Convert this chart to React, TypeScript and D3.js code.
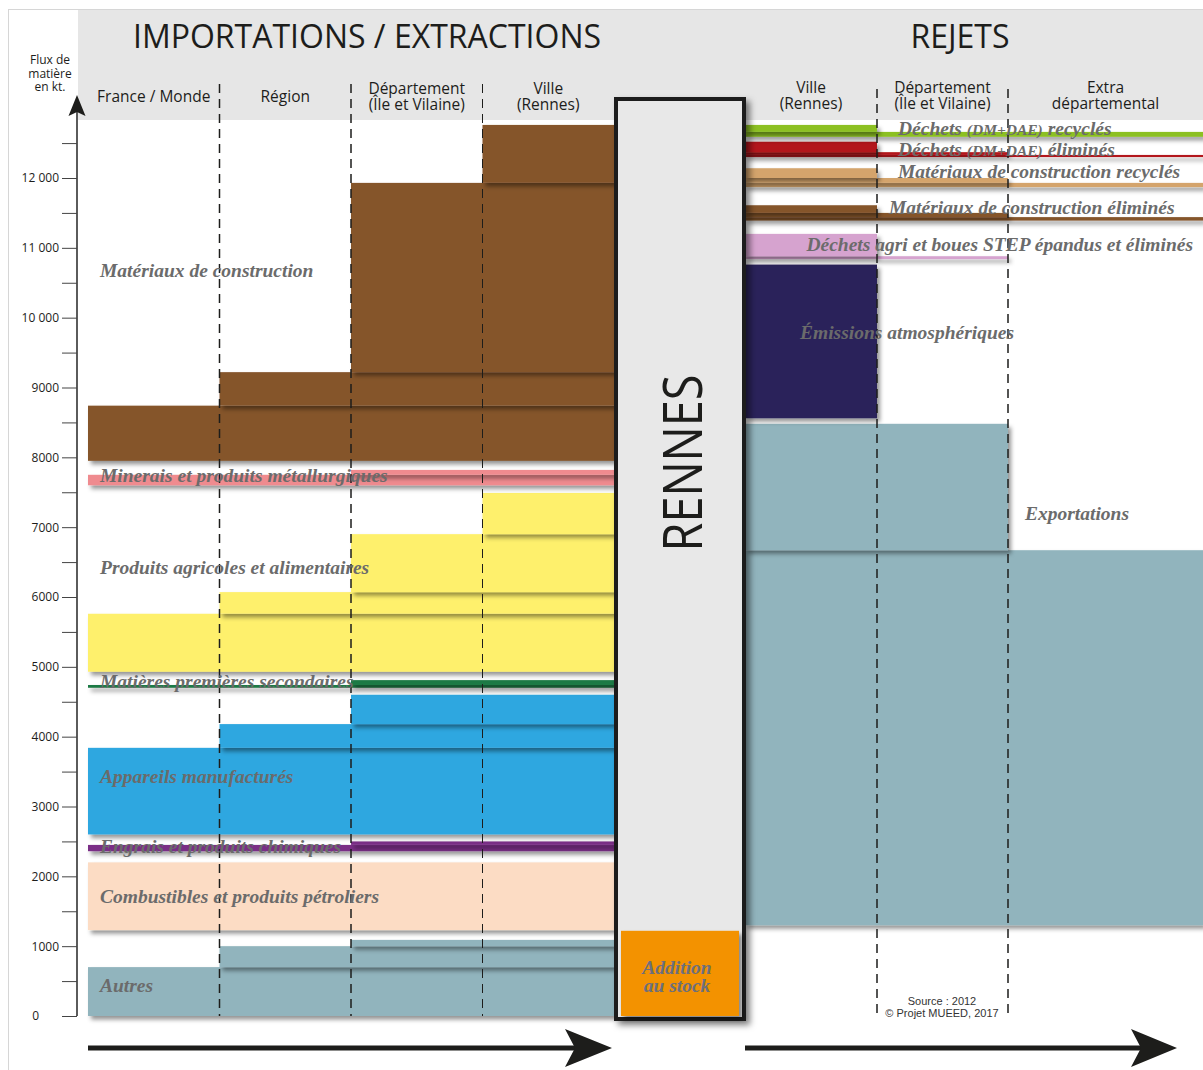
import * as d3 from "d3";
import { useEffect, useRef } from "react";

// column headers (one or two lines)
const leftColumns = [["France / Monde"], ["Région"], ["Département", "(Île et Vilaine)"], ["Ville", "(Rennes)"]];
const rightColumns = [["Ville", "(Rennes)"], ["Département", "(Île et Vilaine)"], ["Extra", "départemental"]];

// importations / extractions, in kt, stacked from the bottom
const importNames = [
  "Autres",
  "Combustibles et produits pétroliers",
  "Engrais et produits chimiques",
  "Appareils manufacturés",
  "Matières premières secondaires",
  "Produits agricoles et alimentaires",
  "Minerais et produits métallurgiques",
  "Matériaux de construction",
];
const importColors = ["#91b4bd", "#fcdcc4", "#7a2e86", "#2ea7e0", "#1f7a45", "#fef06c", "#ef8b8f", "#85552c"];
const importBase = [0, 1230, 2360, 2600, 4700, 4930, 7600, 7950];
const importFrance = [700, 2200, 2450, 3840, 4740, 5760, 7750, 8740];
const importRegion = [1000, 2200, 2450, 4180, 4740, 6070, 7750, 9220];
const importDepartement = [1090, 2200, 2500, 4600, 4810, 6900, 7820, 11930];
const importVille = [1090, 2200, 2500, 4600, 4810, 7490, 7820, 12760];

// rejets, in kt
const rejetNames = [
  "Exportations",
  "Émissions atmosphériques",
  "Déchets agri et boues STEP épandus et éliminés",
  "Matériaux de construction éliminés",
  "Matériaux de construction recyclés",
  "Déchets (DM+DAE) éliminés",
  "Déchets (DM+DAE) recyclés",
];
const rejetColors = ["#91b4bd", "#29215a", "#d6a3cf", "#85552c", "#d4a46c", "#b3191b", "#8cc022"];
const rejetBase = [1300, 8560, 10840, 11390, 11870, 12300, 12590];
const rejetVille = [8480, 10760, 11200, 11610, 12140, 12520, 12760];
const rejetDepartement = [8480, 8560, 10880, 11500, 12000, 12370, 12660];
const rejetExtra = [6670, 8560, 10840, 11440, 11930, 12330, 12660];

const stockValue = 1220;

const yTicks = d3.range(0, 13000, 500);

// label placement: x in px, y in kt
const importLabelPos = [
  { x: 100, v: 430 },
  { x: 100, v: 1718 },
  { x: 100, v: 2434 },
  { x: 100, v: 3423 },
  { x: 100, v: 4783 },
  { x: 100, v: 6416 },
  { x: 100, v: 7747 },
  { x: 100, v: 10669 },
];
const rejetLabelPos = [
  { x: 1025, v: 7189, anchor: "start" },
  { x: 800, v: 9781, anchor: "start" },
  { x: 1193, v: 11041, anchor: "end" },
  { x: 889, v: 11571, anchor: "start" },
  { x: 898, v: 12087, anchor: "start" },
  { x: 898, v: 12402, anchor: "start" },
  { x: 898, v: 12702, anchor: "start" },
];

const labelFont = { fontFamily: "'Liberation Serif', serif", fontStyle: "italic", fontWeight: 700, fontSize: 19.5, fill: "#6b6b6b" };
const sans = "'Open Sans', 'Noto Sans', sans-serif";

function Label({ text, x, y, anchor = "start" }: { text: string; x: number; y: number; anchor?: string }) {
  const parts = text.split("(DM+DAE)");
  return (
    <text x={x} y={y} dominantBaseline="central" textAnchor={anchor} style={labelFont as any}>
      {parts.length > 1 ? (
        <>
          {parts[0]}
          <tspan fontSize={15.5}>(DM+DAE)</tspan>
          {parts[1]}
        </>
      ) : (
        text
      )}
    </text>
  );
}

export default function App() {
  const width = 1203;
  const height = 1070;
  const gy = useRef<SVGGElement | null>(null);

  const y = d3.scaleLinear([0, 12000], [1016, 178]);
  const xL = d3.scaleLinear([0, 4], [88, 614]);
  const xR = d3.scaleLinear([0, 1, 2, 3], [745, 877, 1008, 1203]);

  useEffect(() => {
    if (gy.current) {
      const fmt = (v: number) => (v % 1000 !== 0 ? "" : v >= 10000 ? d3.format(",")(v).replace(",", " ") : String(v));
      const g = d3.select(gy.current);
      g.call(d3.axisLeft(y).tickValues(yTicks).tickSize(15).tickSizeOuter(0).tickFormat(fmt as any));
      g.select(".domain").remove();
      g.selectAll(".tick line").attr("stroke", "#444").attr("stroke-width", 1);
      g.selectAll(".tick text")
        .attr("fill", "#1d1d1b")
        .style("font-family", sans)
        .style("font-size", "12px")
        .attr("x", (d: any) => (d === 0 ? -38 : -18));
    }
  }, [gy, y]);

  // left bands: base rect + increments toward Rennes
  const importTops = [importFrance, importRegion, importDepartement, importVille];
  const importRects = importNames.flatMap((name, i) => {
    const out: { key: string; x0: number; x1: number; v0: number; v1: number; color: string }[] = [];
    let prev = importBase[i];
    importTops.forEach((tops, k) => {
      if (tops[i] > prev) {
        out.push({ key: `${name}-${k}`, x0: xL(k), x1: xL(4), v0: prev, v1: tops[i], color: importColors[i] });
        prev = tops[i];
      }
    });
    return out;
  });

  // right bands: widest (extra) first, then increments back toward Rennes
  const rejetTops = [rejetExtra, rejetDepartement, rejetVille];
  const rejetRects = rejetNames.flatMap((name, i) => {
    const out: { key: string; x0: number; x1: number; v0: number; v1: number; color: string }[] = [];
    let prev = rejetBase[i];
    rejetTops.forEach((tops, k) => {
      if (tops[i] > prev) {
        out.push({ key: `${name}-${k}`, x0: xR(0), x1: xR(3 - k), v0: prev, v1: tops[i], color: rejetColors[i] });
        prev = tops[i];
      }
    });
    return out;
  });

  const dashX = [xL(1), xL(2), xL(3), xR(1), xR(2)];

  return (
    <svg width={width} height={height} style={{ position: "absolute", left: 0, top: 0, background: "#fff" }}>
      <defs>
        <filter id="sh" filterUnits="userSpaceOnUse" x="0" y="0" width={width} height={height}>
          <feDropShadow dx="3" dy="3.5" stdDeviation="2" floodColor="#000" floodOpacity="0.42" />
        </filter>
        <filter id="boxsh" filterUnits="userSpaceOnUse" x="0" y="0" width={width} height={height}>
          <feDropShadow dx="4" dy="4" stdDeviation="3" floodColor="#000" floodOpacity="0.5" />
        </filter>
      </defs>

      {/* frame */}
      <line x1={8.5} x2={8.5} y1={9} y2={height} stroke="#d6d6d6" />
      <line x1={8} x2={width} y1={9.5} y2={9.5} stroke="#d6d6d6" />

      {/* header */}
      <rect x={78} y={10} width={width - 78} height={110} fill="#e6e6e6" />
      <text x={367} y={48} textAnchor="middle" fontFamily={sans} fontSize={32} fill="#1d1d1b">
        IMPORTATIONS / EXTRACTIONS
      </text>
      <text x={960} y={48} textAnchor="middle" fontFamily={sans} fontSize={32} fill="#1d1d1b">
        REJETS
      </text>
      {leftColumns.map((lines, i) => (
        <text key={`lh${i}`} x={xL(i + 0.5)} y={lines.length > 1 ? 94 : 102} textAnchor="middle" fontFamily={sans} fontSize={15.5} fill="#1d1d1b">
          {lines.map((l, j) => (
            <tspan key={j} x={xL(i + 0.5)} dy={j === 0 ? 0 : 16}>
              {l}
            </tspan>
          ))}
        </text>
      ))}
      {rightColumns.map((lines, i) => (
        <text key={`rh${i}`} x={(xR(i) + xR(i + 1)) / 2} y={93} textAnchor="middle" fontFamily={sans} fontSize={15.5} fill="#1d1d1b">
          {lines.map((l, j) => (
            <tspan key={j} x={(xR(i) + xR(i + 1)) / 2} dy={j === 0 ? 0 : 16}>
              {l}
            </tspan>
          ))}
        </text>
      ))}

      {/* y axis */}
      <text x={50} y={64} textAnchor="middle" fontFamily={sans} fontSize={12} fill="#1d1d1b">
        <tspan x={50}>Flux de</tspan>
        <tspan x={50} dy={13.5}>matière</tspan>
        <tspan x={50} dy={13.5}>en kt.</tspan>
      </text>
      <line x1={77} x2={77} y1={110} y2={y(0)} stroke="#333" strokeWidth={1.6} />
      <path d="M77,95 L85.5,116 L77,112 L68.5,116 Z" fill="#1d1d1b" />
      <g ref={gy} transform="translate(77,0)" />

      {/* import bands */}
      {importRects.map((r) => (
        <rect key={r.key} x={r.x0} width={r.x1 - r.x0} y={y(r.v1)} height={y(r.v0) - y(r.v1)} fill={r.color} filter="url(#sh)" />
      ))}

      {/* rejet bands */}
      {rejetRects.map((r) => (
        <rect key={r.key} x={r.x0} width={r.x1 - r.x0} y={y(r.v1)} height={y(r.v0) - y(r.v1)} fill={r.color} filter="url(#sh)" />
      ))}

      {/* dashed column separators */}
      {dashX.map((x, i) => (
        <line
          key={`d${i}`}
          x1={x}
          x2={x}
          y1={i < 3 ? 84 : 89}
          y2={y(0)}
          stroke="#1d1d1b"
          strokeWidth={i === 2 ? 1 : 1.5}
          strokeDasharray="9 6"
        />
      ))}

      {/* Rennes */}
      <rect x={616} y={99} width={128} height={920} fill="#e8e8e8" stroke="#1d1d1b" strokeWidth={4} filter="url(#boxsh)" />
      <rect x={621} y={y(stockValue)} width={118} height={y(0) - y(stockValue)} fill="#f39200" filter="url(#sh)" />
      <text
        transform="translate(702,463) rotate(-90)"
        textAnchor="middle"
        fontFamily={sans}
        fontSize={54}
        fill="#1d1d1b"
        textLength={177}
        lengthAdjust="spacingAndGlyphs"
      >
        RENNES
      </text>
      <text x={677} y={967} textAnchor="middle" dominantBaseline="central" style={{ ...labelFont, fill: "#6c6f7c" } as any}>
        <tspan x={677}>Addition</tspan>
        <tspan x={677} dy={18}>au stock</tspan>
      </text>

      {/* labels */}
      {importNames.map((n, i) => (
        <Label key={n} text={n} x={importLabelPos[i].x} y={y(importLabelPos[i].v)} />
      ))}
      {rejetNames.map((n, i) => (
        <Label key={n} text={n} x={rejetLabelPos[i].x} y={y(rejetLabelPos[i].v)} anchor={rejetLabelPos[i].anchor} />
      ))}

      {/* source */}
      <text x={942} y={1005} textAnchor="middle" fontFamily="'Liberation Sans', Arial, sans-serif" fontSize={11} fill="#333">
        <tspan x={942}>Source : 2012</tspan>
        <tspan x={942} dy={12}>© Projet MUEED, 2017</tspan>
      </text>

      {/* flow arrows */}
      <line x1={88} x2={578} y1={1048} y2={1048} stroke="#1d1d1b" strokeWidth={5} />
      <path d="M565,1029 L612,1048 L565,1067 L575,1048 Z" fill="#1d1d1b" />
      <line x1={745} x2={1142} y1={1048} y2={1048} stroke="#1d1d1b" strokeWidth={5} />
      <path d="M1131,1029 L1177,1048 L1131,1067 L1141,1048 Z" fill="#1d1d1b" />
    </svg>
  );
}
